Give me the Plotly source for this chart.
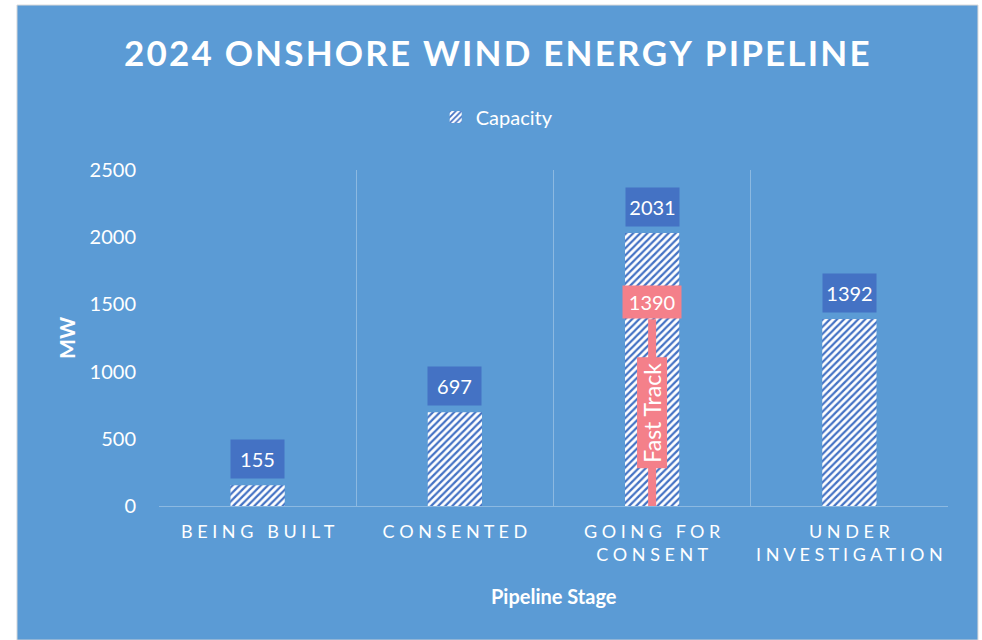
import plotly.graph_objects as go

stages = ['BEING BUILT', 'CONSENTED', 'GOING FOR\nCONSENT', 'UNDER\nINVESTIGATION']
capacity = [155, 697, 2031, 1392]
fast_track_stage = 'GOING FOR\nCONSENT'
fast_track_value = 1390
y_ticks = [0, 500, 1000, 1500, 2000, 2500]
title = '2024 ONSHORE WIND ENERGY PIPELINE'

BG = '#5B9BD5'
DARK = '#4472C4'
PINK = '#F4808A'
FONT = 'Lato'


def spaced(s, sep):
    # Excel-style letter spacing
    lines = s.split('\n')
    return '<br>'.join(sep.join(list(line)) for line in lines)


cats = [spaced(s, '\u00a0') for s in stages]
ft_cat = spaced(fast_track_stage, '\u00a0')

fig = go.Figure()

fig.add_trace(go.Bar(
    x=cats, y=capacity, name='Capacity', width=0.275,
    marker=dict(color='white', line=dict(width=0),
                pattern=dict(shape='/', fgcolor=DARK, bgcolor='white',
                             fgopacity=1, size=5, solidity=0.45)),
))

fig.add_trace(go.Scatter(
    x=[ft_cat, ft_cat], y=[0, fast_track_value], mode='lines',
    line=dict(color=PINK, width=8), showlegend=False, hoverinfo='skip',
))

annotations = []
for c, v in zip(cats, capacity):
    annotations.append(dict(
        x=c, y=v, xref='x', yref='y', text=str(v), showarrow=False,
        yanchor='middle', yshift=26, width=53, height=38, borderpad=0,
        bgcolor=DARK, font=dict(family=FONT, size=20, color='white')))

annotations.append(dict(
    x=ft_cat, y=fast_track_value, xref='x', yref='y', text=str(fast_track_value),
    showarrow=False, yanchor='bottom', width=58, height=32, borderpad=0,
    bgcolor=PINK, font=dict(family=FONT, size=20, color='white')))
annotations.append(dict(
    x=ft_cat, y=fast_track_value / 2, xref='x', yref='y', text='Fast Track',
    showarrow=False, yanchor='middle', textangle=-90, width=110, height=29,
    borderpad=0, bgcolor=PINK, font=dict(family=FONT, size=23, color='white')))

annotations.append(dict(
    x=0.428, y=1.351, xref='paper', yref='paper', showarrow=False,
    xanchor='center', yanchor='middle',
    text='<b>' + '\u200a'.join(list(title)) + '</b>',
    font=dict(family=FONT, size=35, color='white')))
annotations.append(dict(
    x=-0.118, y=0.5, xref='paper', yref='paper', showarrow=False,
    xanchor='center', yanchor='middle',
    text='<b>MW</b>', textangle=-90,
    font=dict(family=FONT, size=21, color='white')))
annotations.append(dict(
    x=0.5, y=-0.268, xref='paper', yref='paper', showarrow=False,
    xanchor='center', yanchor='middle',
    text='<b>Pipeline Stage</b>',
    font=dict(family=FONT, size=20, color='white')))

fig.update_layout(
    width=982, height=640,
    margin=dict(l=159, r=34, t=170, b=134),
    paper_bgcolor='white',
    plot_bgcolor='rgba(0,0,0,0)',
    font=dict(family=FONT, color='white'),
    annotations=annotations,
    showlegend=True,
    legend=dict(orientation='h', x=0.428, xanchor='center', y=1.158,
                yanchor='middle', font=dict(family=FONT, size=20, color='white'),
                bgcolor='rgba(0,0,0,0)'),
    shapes=[dict(type='rect', xref='paper', yref='paper',
                 x0=-0.180, x1=1.038, y0=-0.399, y1=1.491,
                 fillcolor=BG, line=dict(color='#D9D9D9', width=1),
                 layer='below')],
    bargap=0.725,
)

fig.update_xaxes(
    type='category', tickson='boundaries', showgrid=True,
    gridcolor='rgba(255,255,255,0.3)', gridwidth=1,
    showline=True, linecolor='rgba(255,255,255,0.3)', linewidth=1,
    ticks='', ticklabelstandoff=9,
    tickfont=dict(family=FONT, size=18, color='white'),
)
fig.update_yaxes(
    range=[0, 2500], tickvals=y_ticks, showgrid=False, zeroline=False,
    showline=False, ticks='outside', ticklen=18, tickcolor='rgba(0,0,0,0)',
    tickfont=dict(family=FONT, size=20, color='white'),
)

# drop the page's default body margin so the figure sits at the window origin
fig.write_html('out.html', config={'displayModeBar': False},
               post_script="document.body.style.margin='0';")
